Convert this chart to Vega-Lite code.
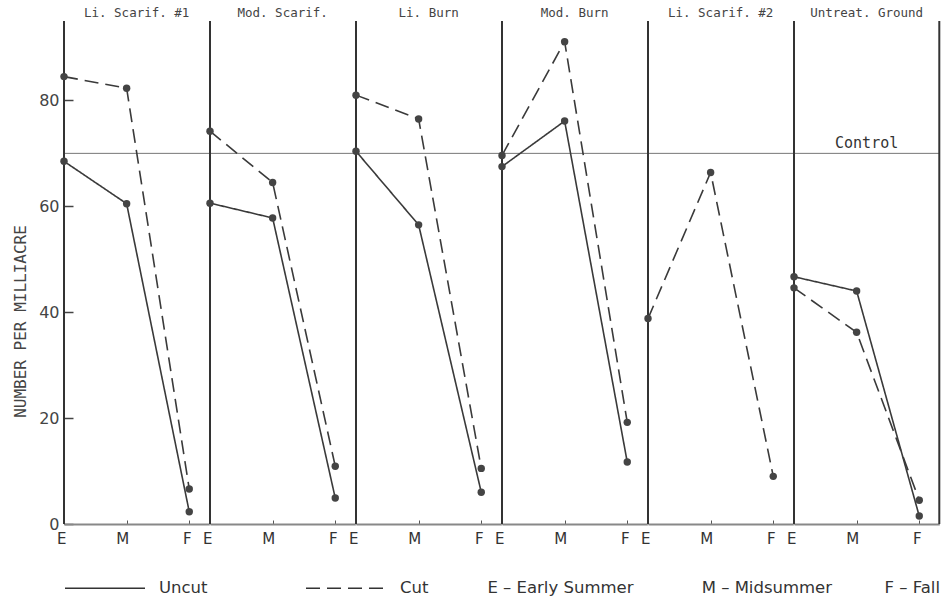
{
  "$schema": "https://vega.github.io/schema/vega-lite/v6.json",
  "padding": {"left": 12, "top": 6, "right": 2, "bottom": 2},
  "bounds": "flush",
  "data": {"values": [
    {"panel": "Li. Scarif. #1", "treatment": "Uncut", "season": "E", "value": 68.5},
    {"panel": "Li. Scarif. #1", "treatment": "Uncut", "season": "M", "value": 60.5},
    {"panel": "Li. Scarif. #1", "treatment": "Uncut", "season": "F", "value": 2.3},
    {"panel": "Li. Scarif. #1", "treatment": "Cut", "season": "E", "value": 84.5},
    {"panel": "Li. Scarif. #1", "treatment": "Cut", "season": "M", "value": 82.3},
    {"panel": "Li. Scarif. #1", "treatment": "Cut", "season": "F", "value": 6.6},
    {"panel": "Mod. Scarif.", "treatment": "Uncut", "season": "E", "value": 60.6},
    {"panel": "Mod. Scarif.", "treatment": "Uncut", "season": "M", "value": 57.8},
    {"panel": "Mod. Scarif.", "treatment": "Uncut", "season": "F", "value": 4.9},
    {"panel": "Mod. Scarif.", "treatment": "Cut", "season": "E", "value": 74.2},
    {"panel": "Mod. Scarif.", "treatment": "Cut", "season": "M", "value": 64.5},
    {"panel": "Mod. Scarif.", "treatment": "Cut", "season": "F", "value": 10.9},
    {"panel": "Li. Burn", "treatment": "Uncut", "season": "E", "value": 70.4},
    {"panel": "Li. Burn", "treatment": "Uncut", "season": "M", "value": 56.5},
    {"panel": "Li. Burn", "treatment": "Uncut", "season": "F", "value": 6.0},
    {"panel": "Li. Burn", "treatment": "Cut", "season": "E", "value": 81.0},
    {"panel": "Li. Burn", "treatment": "Cut", "season": "M", "value": 76.5},
    {"panel": "Li. Burn", "treatment": "Cut", "season": "F", "value": 10.5},
    {"panel": "Mod. Burn", "treatment": "Uncut", "season": "E", "value": 67.5},
    {"panel": "Mod. Burn", "treatment": "Uncut", "season": "M", "value": 76.1},
    {"panel": "Mod. Burn", "treatment": "Uncut", "season": "F", "value": 11.7},
    {"panel": "Mod. Burn", "treatment": "Cut", "season": "E", "value": 69.6},
    {"panel": "Mod. Burn", "treatment": "Cut", "season": "M", "value": 91.1},
    {"panel": "Mod. Burn", "treatment": "Cut", "season": "F", "value": 19.2},
    {"panel": "Li. Scarif. #2", "treatment": "Cut", "season": "E", "value": 38.8},
    {"panel": "Li. Scarif. #2", "treatment": "Cut", "season": "M", "value": 66.4},
    {"panel": "Li. Scarif. #2", "treatment": "Cut", "season": "F", "value": 9.0},
    {"panel": "Untreat. Ground", "treatment": "Uncut", "season": "E", "value": 46.7},
    {"panel": "Untreat. Ground", "treatment": "Uncut", "season": "M", "value": 44.0},
    {"panel": "Untreat. Ground", "treatment": "Uncut", "season": "F", "value": 1.5},
    {"panel": "Untreat. Ground", "treatment": "Cut", "season": "E", "value": 44.6},
    {"panel": "Untreat. Ground", "treatment": "Cut", "season": "M", "value": 36.2},
    {"panel": "Untreat. Ground", "treatment": "Cut", "season": "F", "value": 4.5}
  ]},
  "facet": {
    "column": {
      "field": "panel", "type": "nominal",
      "sort": ["Li. Scarif. #1", "Mod. Scarif.", "Li. Burn", "Mod. Burn", "Li. Scarif. #2", "Untreat. Ground"],
      "title": "E – Early Summer\u00a0\u00a0\u00a0\u00a0\u00a0\u00a0\u00a0\u00a0\u00a0\u00a0\u00a0\u00a0\u00a0M – Midsummer\u00a0\u00a0\u00a0\u00a0\u00a0\u00a0\u00a0\u00a0\u00a0\u00a0F – Fall",
      "header": {
        "labelOrient": "top", "labelFont": "DejaVu Sans Mono", "labelFontSize": 12.5, "labelColor": "#444", "labelPadding": 2,
        "titleOrient": "bottom", "titleAnchor": "end", "titleFont": "DejaVu Sans", "titleFontSize": 16.5, "titleFontWeight": "normal", "titleColor": "#333", "titlePadding": 24
      }
    }
  },
  "spacing": 0,
  "spec": {
    "width": 145.3,
    "height": 503,
    "layer": [
      {
        "transform": [{"filter": "datum.season == 'E' && datum.treatment == 'Cut'"}],
        "mark": {"type": "rule", "color": "#777", "strokeWidth": 1},
        "encoding": {
          "y": {"datum": 70, "type": "quantitative"}
        }
      },
      {
        "transform": [{"filter": "datum.season == 'E' && datum.treatment == 'Cut'"}],
        "mark": {"type": "rule", "color": "#333", "strokeWidth": 2},
        "encoding": {
          "x": {"datum": "E", "type": "nominal"}
        }
      },
      {
        "transform": [{"filter": "datum.panel == 'Untreat. Ground' && datum.season == 'E' && datum.treatment == 'Cut'"}],
        "mark": {"type": "rule", "color": "#333", "strokeWidth": 2},
        "encoding": {
          "x": {"value": "width"}
        }
      },
      {
        "mark": {"type": "line", "color": "#3a3a3a", "strokeWidth": 1.6},
        "encoding": {
          "x": {"field": "season", "type": "nominal", "sort": ["E", "M", "F"],
            "scale": {"type": "point", "domain": ["E", "M", "F"], "padding": 0.16, "align": 0},
            "axis": {"title": null, "labelAngle": 0, "labelFontSize": 15, "labelColor": "#333", "labelPadding": 18, "labelOffset": 2, "tickSize": -4, "tickColor": "#555", "domainColor": "#888", "domainWidth": 2}},
          "y": {"field": "value", "type": "quantitative", "scale": {"domain": [0, 95], "nice": false},
            "axis": {"title": "NUMBER PER MILLIACRE", "titleFont": "DejaVu Sans Mono", "titleFontSize": 16, "titleFontWeight": "normal", "titleColor": "#444", "titlePadding": 10, "titleY": 300, "values": [0, 20, 40, 60, 80], "labelFontSize": 16, "labelColor": "#444", "tickSize": -9, "tickColor": "#444", "tickWidth": 1.5, "labelPadding": 14, "domain": false, "grid": false}},
          "strokeDash": {"field": "treatment", "type": "nominal",
            "scale": {"domain": ["Uncut", "Cut"], "range": [[1, 0], [14, 7]]},
            "legend": {"title": null, "orient": "bottom", "direction": "horizontal", "symbolType": "stroke", "symbolSize": 6400, "symbolStrokeWidth": 1.5, "symbolStrokeColor": "#333", "labelFontSize": 16.5, "labelColor": "#333", "labelOffset": 13, "columnPadding": 95, "offset": -50}}
        }
      },
      {
        "mark": {"type": "point", "filled": true, "color": "#444", "size": 55, "opacity": 1},
        "encoding": {
          "x": {"field": "season", "type": "nominal", "sort": ["E", "M", "F"]},
          "y": {"field": "value", "type": "quantitative"}
        }
      },
      {
        "transform": [{"filter": "datum.panel == 'Untreat. Ground' && datum.season == 'E' && datum.treatment == 'Cut'"}],
        "mark": {"type": "text", "font": "DejaVu Sans Mono", "fontSize": 15, "color": "#333", "baseline": "bottom", "dy": -2, "dx": 10},
        "encoding": {
          "x": {"datum": "M", "type": "nominal"},
          "y": {"datum": 70, "type": "quantitative"},
          "text": {"value": "Control"}
        }
      }
    ]
  },
  "config": {
    "view": {"stroke": null},
    "font": "DejaVu Sans",
    "axis": {"grid": false}
  }
}
